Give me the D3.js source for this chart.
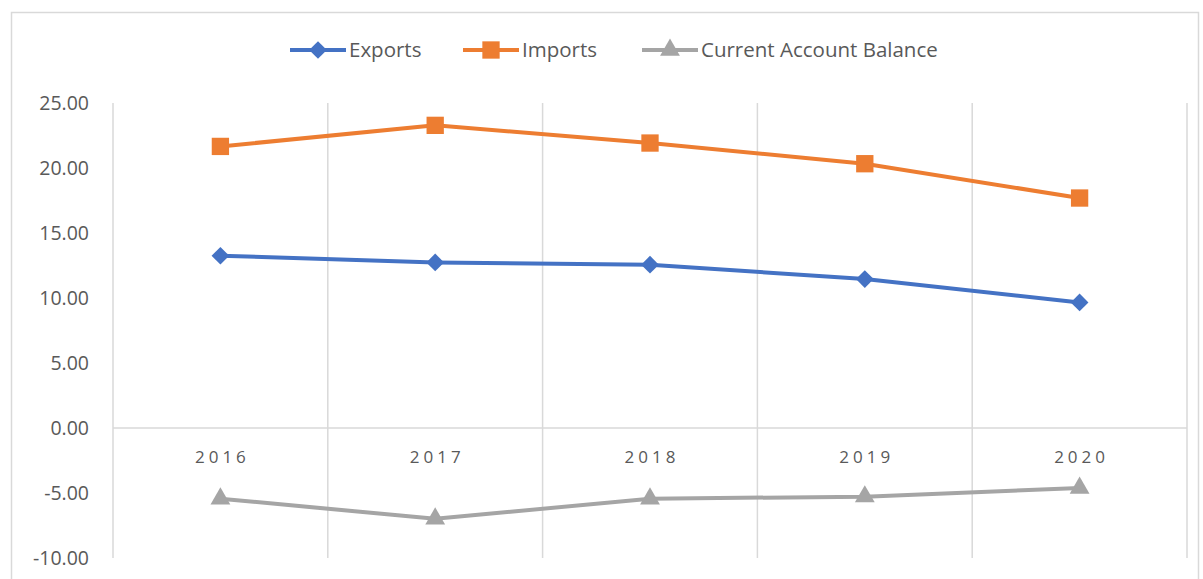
<!DOCTYPE html>
<html lang="en">
<meta charset="utf-8">
<title>Exports, Imports and Current Account Balance</title>
<style>
    body { margin: 0; background: white; }
    text { font-family: "Open Sans", "Liberation Sans", sans-serif; fill: #595959; }
</style>
<body>
<svg id="canvas"></svg>
<script src="https://cdn.jsdelivr.net/npm/d3@7"></script>
<script>

    /////////////////////// Data //////////////////////
    var years    = ["2016", "2017", "2018", "2019", "2020"];
    var exports_ = [13.25, 12.74, 12.56, 11.46, 9.66];
    var imports_ = [21.66, 23.28, 21.92, 20.33, 17.69];
    var balance  = [-5.44, -6.98, -5.44, -5.28, -4.62];
    var y_ticks  = [25, 20, 15, 10, 5, 0, -5, -10];
    ///////////////////////////////////////////////////

    var series = [
        { name: "Exports",                 values: exports_, color: "#4472C4", symbol: d3.symbolDiamond2, size: 200 },
        { name: "Imports",                 values: imports_, color: "#ED7D31", symbol: d3.symbolSquare,   size: 300 },
        { name: "Current Account Balance", values: balance,  color: "#A5A5A5", symbol: d3.symbolTriangle, size: 170 }
    ];

    ///////// Position and Dimension Variables ////////
    var width  = 1203, height = 579;
    var plot_L = 113, plot_R = 1187;
    var plot_T = 103, plot_B = 558;
    ///////////////////////////////////////////////////

    var svg = d3.select("#canvas")
        .attr("width", width)
        .attr("height", height);

    // chart border
    svg.append("rect")
        .attr("x", 11.5).attr("y", 12.5)
        .attr("width", 1187).attr("height", 580)
        .attr("fill", "white")
        .attr("stroke", "#D9D9D9")
        .attr("stroke-width", 1.5);

    var x = d3.scaleBand().domain(years).range([plot_L, plot_R]).padding(0);
    var y = d3.scaleLinear().domain([-10, 25]).range([plot_B, plot_T]);

    // vertical gridlines at category boundaries
    var bounds = years.map(function (d) { return x(d); }).concat([plot_R]);
    svg.append("g").selectAll("line")
        .data(bounds)
        .join("line")
        .attr("x1", function (d) { return d; })
        .attr("x2", function (d) { return d; })
        .attr("y1", plot_T).attr("y2", plot_B)
        .attr("stroke", "#D9D9D9")
        .attr("stroke-width", 1.5);

    // zero axis line
    svg.append("line")
        .attr("x1", plot_L).attr("x2", plot_R)
        .attr("y1", y(0)).attr("y2", y(0))
        .attr("stroke", "#D9D9D9")
        .attr("stroke-width", 1.5);

    // y axis labels (plain hyphen for negatives)
    var yAxis = d3.axisLeft(y).tickValues(y_ticks)
        .tickFormat(function (d) { return d.toFixed(2); })
        .tickSize(0).tickPadding(24);
    var gy = svg.append("g").attr("transform", "translate(" + plot_L + ",0)").call(yAxis);
    gy.select(".domain").remove();
    gy.selectAll("text")
        .attr("font-size", 19.5)
        .style("font-family", '"Open Sans", "Liberation Sans", sans-serif')
        .attr("fill", "#595959");

    // category labels under zero line
    svg.append("g").selectAll("text")
        .data(years)
        .join("text")
        .attr("x", function (d) { return x(d) + x.bandwidth() / 2 + 2; })
        .attr("y", y(0) + 35)
        .attr("text-anchor", "middle")
        .attr("font-size", 17)
        .attr("letter-spacing", 4)
        .text(function (d) { return d; });

    // lines and markers
    var line = d3.line()
        .x(function (d, i) { return x(years[i]) + x.bandwidth() / 2; })
        .y(function (d) { return y(d); });

    series.forEach(function (s) {
        svg.append("path")
            .datum(s.values)
            .attr("d", line)
            .attr("fill", "none")
            .attr("stroke", s.color)
            .attr("stroke-width", 4)
            .attr("stroke-linejoin", "round");
        svg.append("g").selectAll("path")
            .data(s.values)
            .join("path")
            .attr("transform", function (d, i) {
                return "translate(" + (x(years[i]) + x.bandwidth() / 2) + "," + y(d) + ")";
            })
            .attr("d", d3.symbol().type(s.symbol).size(s.size))
            .attr("fill", s.color);
    });

    // legend
    var legend_x = [290, 463, 642];
    var legend = svg.append("g").selectAll("g")
        .data(series)
        .join("g")
        .attr("transform", function (d, i) { return "translate(" + legend_x[i] + ",50)"; });
    legend.append("line")
        .attr("x1", 0).attr("x2", 56)
        .attr("stroke", function (d) { return d.color; })
        .attr("stroke-width", 4);
    legend.append("path")
        .attr("transform", "translate(28,0)")
        .attr("d", function (d) { return d3.symbol().type(d.symbol).size(d.size)(); })
        .attr("fill", function (d) { return d.color; });
    legend.append("text")
        .attr("x", 59)
        .attr("dy", "0.35em")
        .attr("font-size", 20.5)
        .text(function (d) { return d.name; });

</script>
</body>
</html>
